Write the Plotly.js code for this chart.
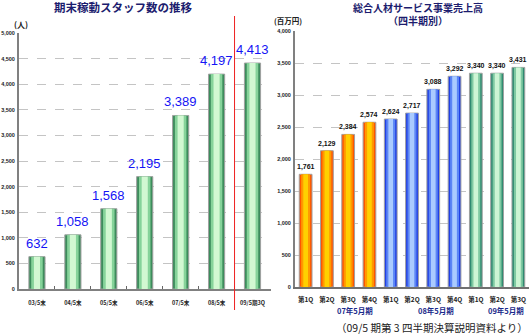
<!DOCTYPE html>
<html><head><meta charset="utf-8">
<script src="https://cdn.plot.ly/plotly-3.0.1.min.js"></script>
<style>html,body{margin:0;padding:0;background:#fff}#chart{width:530px;height:335px}</style>
</head><body><div id="chart"></div>
<script>
// ---- data ----
const staffCategories = ['03/5末','04/5末','05/5末','06/5末','07/5末','08/5末','09/5期3Q'];
const staffValues = [632, 1058, 1568, 2195, 3389, 4197, 4413];
const quarterLabels = ['第1Q','第2Q','第3Q','第4Q','第1Q','第2Q','第3Q','第4Q','第1Q','第2Q','第3Q'];
const salesValues = [1761, 2129, 2384, 2574, 2624, 2717, 3088, 3292, 3340, 3340, 3431];
const quarterGroup = [0,0,0,0,1,1,1,1,2,2,2];
const groupNames = ['07年5月期','08年5月期','09年5月期'];
const leftTitle = '期末稼動スタッフ数の推移';
const rightTitle1 = '総合人材サービス事業売上高';
const rightTitle2 = '（四半期別）';
const sourceNote = '（09/5 期第 3 四半期決算説明資料より）';

// ---- styling ----
const W = 530, H = 335;
const px = v => v / W, py = v => 1 - v / H;
const FONT = 'Liberation Sans, Arial, Noto Sans CJK JP, sans-serif';
const JFONT = 'Noto Sans CJK JP, sans-serif';
const NAVY = '#1c1c6e';

const leftLayers = [
  {w: 0.45, c: '#3d8c5c'},
  {w: 0.32, c: '#86d39a'},
  {w: 0.17, c: '#d2f8d2'}
];
const groupLayers = [
  ['#ff5500', '#ff9900', '#ffd000'],
  ['#2040e6', '#5c86f5', '#aacbff'],
  ['#2e8a70', '#7fc9a2', '#cdf5d4']
];
const rightWidths = [0.6, 0.42, 0.22];

const xIdx = salesValues.map((_, i) => i);
const traces = [];
leftLayers.forEach((L, k) => {
  traces.push({
    type: 'bar', x: staffCategories, y: staffValues, width: L.w,
    xaxis: 'x', yaxis: 'y', hoverinfo: 'skip',
    marker: {color: L.c, line: {color: k === 0 ? '#a0a0a0' : 'rgba(0,0,0,0)', width: k === 0 ? 1 : 0}}
  });
});
rightWidths.forEach((w, k) => {
  traces.push({
    type: 'bar', x: xIdx, y: salesValues, width: w,
    xaxis: 'x2', yaxis: 'y2', hoverinfo: 'skip',
    marker: {color: quarterGroup.map(g => groupLayers[g][k]),
             line: {color: k === 0 ? '#a0a0a0' : 'rgba(0,0,0,0)', width: k === 0 ? 1 : 0}}
  });
});

const annotations = [];
staffValues.forEach((v, i) => annotations.push({
  xref: 'x', yref: 'y', x: staffCategories[i], y: v, xanchor: 'center', yanchor: 'bottom', yshift: 4,
  text: v.toLocaleString('en-US'), showarrow: false,
  font: {family: FONT, size: 13, color: '#1414f5'}
}));
salesValues.forEach((v, i) => annotations.push({
  xref: 'x2', yref: 'y2', x: i, y: v, xanchor: 'center', yanchor: 'bottom', yshift: 1,
  text: v.toLocaleString('en-US'), showarrow: false,
  font: {family: FONT, size: 7, color: '#111', weight: 'bold'}
}));
const groupPos = [2.32, 6.12, 9.4];
groupNames.forEach((g, i) => annotations.push({
  xref: 'x2', yref: 'paper', x: groupPos[i], y: py(310), xanchor: 'center', yanchor: 'middle',
  text: g, showarrow: false, font: {family: JFONT, size: 7.5, color: '#1a2a8a', weight: 'bold'}
}));
annotations.push(
  {xref: 'paper', yref: 'paper', x: px(123), y: py(7), xanchor: 'center', yanchor: 'middle', text: leftTitle, showarrow: false,
   font: {family: JFONT, size: 11.5, color: NAVY, weight: 'bold'}},
  {xref: 'paper', yref: 'paper', x: px(418), y: py(13.5), xanchor: 'center', yanchor: 'middle', align: 'center', borderpad: 0,
   text: rightTitle1 + '<br>' + rightTitle2, showarrow: false,
   font: {family: JFONT, size: 10, color: NAVY, weight: 'bold'}},
  {xref: 'paper', yref: 'paper', x: px(21), y: py(25), xanchor: 'center', yanchor: 'middle', text: '(人)', showarrow: false,
   font: {family: JFONT, size: 8, color: '#222', weight: 'bold'}},
  {xref: 'paper', yref: 'paper', x: px(288), y: py(21), xanchor: 'center', yanchor: 'middle', text: '(百万円)', showarrow: false,
   font: {family: JFONT, size: 7.5, color: '#222', weight: 'bold'}},
  {xref: 'paper', yref: 'paper', x: px(530), xanchor: 'right', y: py(327), yanchor: 'middle', text: sourceNote, showarrow: false,
   font: {family: JFONT, size: 10.5, color: '#222'}}
);

const yCommon = {
  showgrid: true, gridcolor: '#c4c4c4', griddash: 'dash', gridwidth: 1,
  zeroline: false, showline: true, linecolor: '#808080', linewidth: 2,
  ticks: '', tickformat: ',d', dtick: 500, ticklabelstandoff: 1,
  tickfont: {family: FONT, size: 5.5, color: '#222', weight: 'bold'}, fixedrange: true
};

const layout = {
  width: W, height: H, margin: {l: 0, r: 0, t: 0, b: 0},
  paper_bgcolor: '#fff', plot_bgcolor: 'rgba(0,0,0,0)',
  showlegend: false, barmode: 'overlay',
  xaxis: {
    domain: [px(19), px(271)], type: 'category', anchor: 'y',
    showline: true, linecolor: '#808080', linewidth: 2,
    tickson: 'boundaries', ticks: 'inside', ticklen: 3, tickcolor: '#666',
    ticklabelstandoff: 7, tickangle: 0,
    tickfont: {family: JFONT, size: 5.5, color: '#222', weight: 'bold'}, fixedrange: true
  },
  yaxis: Object.assign({}, yCommon, {domain: [py(289), py(33)], range: [0, 5000], anchor: 'x'}),
  xaxis2: {
    domain: [px(295), px(529)], type: 'linear', range: [-0.5, 10.5], anchor: 'y2',
    tickvals: xIdx, ticktext: quarterLabels, showgrid: false, zeroline: false, tickangle: 0,
    showline: true, linecolor: '#707070', linewidth: 2, ticks: '', ticklabelstandoff: 5,
    tickfont: {family: JFONT, size: 6.5, color: '#222', weight: 'bold'}, fixedrange: true
  },
  yaxis2: Object.assign({}, yCommon, {domain: [py(287), py(31)], range: [0, 4000], anchor: 'x2'}),
  shapes: [{type: 'line', xref: 'x', yref: 'paper', x0: 5.5, x1: 5.5, y0: py(310), y1: py(16),
            line: {color: '#ee2020', width: 1}}],
  annotations: annotations
};

Plotly.newPlot('chart', traces, layout, {staticPlot: true});
</script></body></html>
